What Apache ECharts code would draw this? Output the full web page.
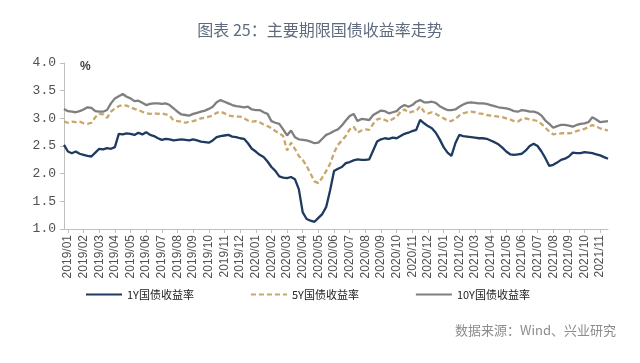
<!DOCTYPE html>
<html>
<head>
<meta charset="utf-8">
<script src="https://cdn.jsdelivr.net/npm/echarts@6/dist/echarts.min.js"></script>
<style>
html,body{margin:0;padding:0;background:#fff;}
#c{width:640px;height:363px;}
</style>
</head>
<body>
<div id="c"></div>
<script>
// Month tick labels
var months = ['2019/01','2019/02','2019/03','2019/04','2019/05','2019/06','2019/07','2019/08','2019/09','2019/10','2019/11','2019/12',
  '2020/01','2020/02','2020/03','2020/04','2020/05','2020/06','2020/07','2020/08','2020/09','2020/10','2020/11','2020/12',
  '2021/01','2021/02','2021/03','2021/04','2021/05','2021/06','2021/07','2021/08','2021/09','2021/10','2021/11'];

// Weekly-ish observations (about 4 per month)
var y1 = [2.52,2.40,2.37,2.40,2.36,2.34,2.32,2.31,2.38,2.45,2.44,2.46,2.45,2.48,2.72,2.71,2.73,2.72,2.70,2.74,
  2.71,2.75,2.70,2.68,2.64,2.61,2.63,2.62,2.60,2.61,2.62,2.61,2.60,2.62,2.60,2.58,2.57,2.56,2.60,2.66,
  2.68,2.69,2.70,2.67,2.66,2.64,2.63,2.55,2.45,2.40,2.34,2.30,2.22,2.12,2.05,1.95,1.93,1.92,1.94,1.90,
  1.72,1.30,1.18,1.15,1.13,1.20,1.27,1.40,1.70,2.05,2.09,2.12,2.19,2.21,2.24,2.26,2.25,2.25,2.26,2.42,
  2.58,2.62,2.64,2.63,2.65,2.64,2.68,2.72,2.74,2.77,2.79,2.97,2.91,2.86,2.82,2.74,2.62,2.48,2.38,2.32,
  2.55,2.70,2.68,2.67,2.66,2.65,2.64,2.64,2.63,2.60,2.57,2.53,2.47,2.40,2.35,2.34,2.35,2.36,2.42,2.50,
  2.54,2.50,2.40,2.28,2.14,2.16,2.20,2.25,2.27,2.31,2.38,2.37,2.37,2.39,2.38,2.37,2.35,2.33,2.30,2.27];
var y5 = [2.94,2.92,2.94,2.93,2.94,2.91,2.90,2.92,3.02,3.08,3.07,3.01,3.12,3.18,3.22,3.24,3.23,3.20,3.17,3.15,
  3.12,3.09,3.08,3.09,3.08,3.09,3.07,3.05,2.96,2.95,2.94,2.92,2.94,2.95,2.97,3.00,3.01,3.03,3.05,3.10,
  3.12,3.09,3.05,3.04,3.03,3.03,3.00,2.96,2.94,2.95,2.93,2.89,2.86,2.82,2.77,2.73,2.68,2.42,2.56,2.45,
  2.32,2.25,2.14,2.00,1.86,1.83,1.93,2.05,2.18,2.38,2.52,2.60,2.68,2.80,2.85,2.74,2.78,2.80,2.79,2.90,
  2.98,3.00,2.97,2.94,2.99,3.03,3.12,3.16,3.10,3.12,3.13,3.22,3.12,3.09,3.11,3.08,3.04,3.00,2.96,2.95,
  2.99,3.05,3.09,3.11,3.12,3.11,3.09,3.08,3.06,3.05,3.04,3.03,3.02,3.00,2.98,2.95,2.94,2.99,3.00,2.98,
  2.97,2.95,2.90,2.83,2.76,2.71,2.72,2.73,2.73,2.73,2.74,2.77,2.79,2.81,2.84,2.88,2.85,2.82,2.80,2.78];
var y10 = [3.17,3.13,3.12,3.11,3.13,3.16,3.20,3.19,3.13,3.12,3.12,3.15,3.27,3.36,3.40,3.44,3.39,3.36,3.31,3.32,
  3.28,3.24,3.26,3.27,3.27,3.26,3.27,3.24,3.18,3.12,3.07,3.06,3.05,3.08,3.10,3.12,3.14,3.17,3.21,3.29,
  3.33,3.30,3.27,3.24,3.22,3.21,3.20,3.21,3.16,3.15,3.15,3.11,3.08,2.95,2.92,2.90,2.80,2.69,2.78,2.66,
  2.62,2.61,2.60,2.58,2.55,2.56,2.63,2.70,2.73,2.77,2.80,2.87,2.96,3.04,3.08,2.95,2.99,2.98,2.97,3.06,
  3.10,3.14,3.13,3.09,3.11,3.13,3.20,3.24,3.21,3.24,3.30,3.33,3.29,3.29,3.30,3.28,3.22,3.18,3.15,3.15,
  3.16,3.21,3.25,3.28,3.29,3.28,3.27,3.27,3.26,3.24,3.22,3.20,3.19,3.18,3.16,3.13,3.12,3.15,3.14,3.12,
  3.12,3.10,3.05,2.96,2.90,2.83,2.86,2.88,2.88,2.87,2.85,2.88,2.90,2.91,2.93,3.02,2.98,2.93,2.94,2.95];

var seriesNames = ['1Y国债收益率','5Y国债收益率','10Y国债收益率'];

// Category for each observation: one point before the first month tick, then 4 per month
var cats = [];
for (var j = 0; j < y1.length; j++) {
  var m = Math.max(0, Math.floor((j - 1) / 4));
  if (m > months.length - 1) m = months.length - 1;
  cats.push(months[m] + '#' + j);
}
function isTick(idx) { return idx >= 1 && (idx - 1) % 4 === 0; }

var chart = echarts.init(document.getElementById('c'), null, {renderer: 'canvas'});
chart.setOption({
  backgroundColor: '#ffffff',
  animation: false,
  title: {
    text: '图表 25：主要期限国债收益率走势',
    left: 'center', top: 17,
    textStyle: {color: '#5f6a7d', fontSize: 16, fontWeight: 'normal', fontFamily: 'Noto Sans CJK SC'}
  },
  grid: {left: 64, right: 32, top: 63, bottom: 134, containLabel: false},
  legend: {
    data: seriesNames,
    left: 85, top: 289, padding: 0,
    itemWidth: 36, itemHeight: 10, itemGap: 56,
    itemStyle: {opacity: 0},
    textStyle: {fontSize: 11, color: '#222', fontFamily: 'Noto Sans CJK SC'}
  },
  xAxis: {
    type: 'category',
    data: cats,
    boundaryGap: false,
    axisLine: {lineStyle: {color: '#bfbfbf', width: 1}},
    axisTick: {interval: function (i) { return isTick(i); }, length: 4, lineStyle: {color: '#bfbfbf'}},
    axisLabel: {
      interval: function (i) { return isTick(i); },
      rotate: 90, fontSize: 12, color: '#505050', margin: 6,
      fontFamily: 'Liberation Sans',
      formatter: function (v) { return v.split('#')[0]; }
    },
    splitLine: {show: false}
  },
  yAxis: {
    type: 'value', min: 1, max: 4, interval: 0.5,
    axisLine: {show: true, lineStyle: {color: '#bfbfbf', width: 1}},
    axisTick: {show: true, length: 4, lineStyle: {color: '#bfbfbf'}},
    axisLabel: {
      fontSize: 13, color: '#505050', margin: 8, fontFamily: 'Liberation Mono',
      formatter: function (v) { return v.toFixed(1); }
    },
    splitLine: {show: false}
  },
  graphic: [
    {type: 'text', left: 80, top: 61, style: {text: '%', fontSize: 12, fill: '#404040', fontFamily: 'Liberation Sans', fontWeight: 'bold'}},
    {type: 'text', right: 24, top: 324, style: {text: '数据来源：Wind、兴业研究', fontSize: 13, fill: '#8c8c8c', fontFamily: 'Noto Sans CJK SC'}}
  ],
  series: [
    {name: seriesNames[0], type: 'line', data: y1, symbol: 'none', z: 3,
      lineStyle: {color: '#1f3a5f', width: 2.3}, itemStyle: {color: '#1f3a5f'}},
    {name: seriesNames[1], type: 'line', data: y5, symbol: 'none', z: 2,
      lineStyle: {color: '#c9a66b', width: 2.3, type: [5, 3]}, itemStyle: {color: '#c9a66b'}},
    {name: seriesNames[2], type: 'line', data: y10, symbol: 'none', z: 1,
      lineStyle: {color: '#7f7f7f', width: 2.3}, itemStyle: {color: '#7f7f7f'}}
  ]
});
</script>
</body>
</html>
